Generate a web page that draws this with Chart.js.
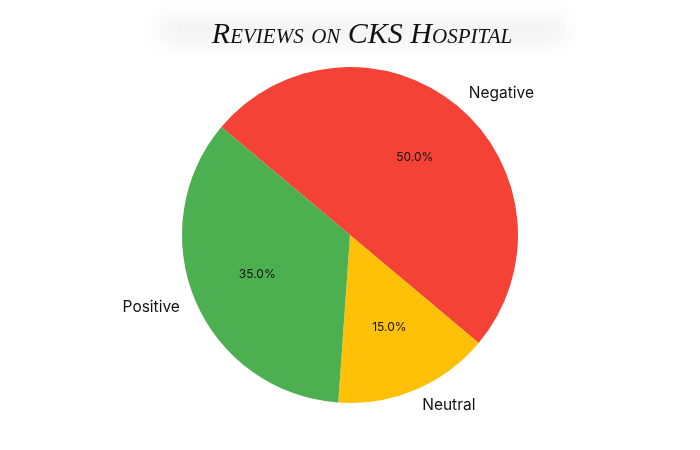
<!DOCTYPE html>
<html>
<head>
<meta charset="utf-8">
<script src="https://cdn.jsdelivr.net/npm/chart.js@4"></script>
<style>
  html, body { margin: 0; padding: 0; background: #fff; }
  #wrap { width: 700px; height: 450px; }
</style>
</head>
<body>
<div id="wrap"><canvas id="c" width="700" height="450"></canvas></div>
<script>
// Slices listed clockwise, starting at the upper-left boundary.
const LABELS = ['Negative', 'Neutral', 'Positive'];
const SHARES = [50, 15, 35];
const COLORS = ['#F44336', '#FFC107', '#4CAF50'];
const TITLE = 'Reviews on CKS Hospital';

// Title: serif italic small caps over a soft grey blur band.
const titlePlugin = {
  id: 'fancyTitle',
  beforeDraw(chart) {
    const c = chart.ctx;
    c.save();
    c.filter = 'blur(10px)';
    c.fillStyle = '#f3f3f3';
    c.fillRect(160, 16, 405, 28);
    c.restore();
    c.save();
    c.font = 'italic 30px "Liberation Serif", "DejaVu Serif", serif';
    if ('fontVariantCaps' in c) c.fontVariantCaps = 'small-caps';
    c.fillStyle = '#111';
    c.textAlign = 'center';
    c.textBaseline = 'alphabetic';
    c.fillText(TITLE, 362, 43);
    c.restore();
  }
};

// Category labels outside (1.1 r) and percentages inside (0.6 r).
const labelPlugin = {
  id: 'sliceLabels',
  afterDatasetsDraw(chart) {
    const c = chart.ctx;
    const meta = chart.getDatasetMeta(0);
    const total = SHARES.reduce(function (a, b) { return a + b; }, 0);
    c.save();
    meta.data.forEach(function (arc, i) {
      const mid = (arc.startAngle + arc.endAngle) / 2;
      const r = arc.outerRadius;
      const cos = Math.cos(mid), sin = Math.sin(mid);
      c.fillStyle = '#111';
      c.textBaseline = 'middle';
      c.font = '15.5px Inter, "Open Sans", sans-serif';
      c.textAlign = cos > 0.01 ? 'left' : (cos < -0.01 ? 'right' : 'center');
      c.fillText(LABELS[i], arc.x + 1.1 * r * cos, arc.y + 1.1 * r * sin);
      c.font = '12px Inter, "Open Sans", sans-serif';
      c.textAlign = 'center';
      c.fillText((100 * SHARES[i] / total).toFixed(1) + '%', arc.x + 0.6 * r * cos, arc.y + 0.6 * r * sin);
    });
    c.restore();
  }
};

new Chart(document.getElementById('c').getContext('2d'), {
  type: 'pie',
  data: { labels: LABELS, datasets: [{ data: SHARES, backgroundColor: COLORS, borderWidth: 0 }] },
  options: {
    responsive: false, animation: false,
    rotation: -50,
    layout: { padding: { top: 67, bottom: 47, left: 0, right: 0 } },
    plugins: { legend: { display: false }, tooltip: { enabled: false }, title: { display: false } }
  },
  plugins: [titlePlugin, labelPlugin]
});
</script>
</body>
</html>
